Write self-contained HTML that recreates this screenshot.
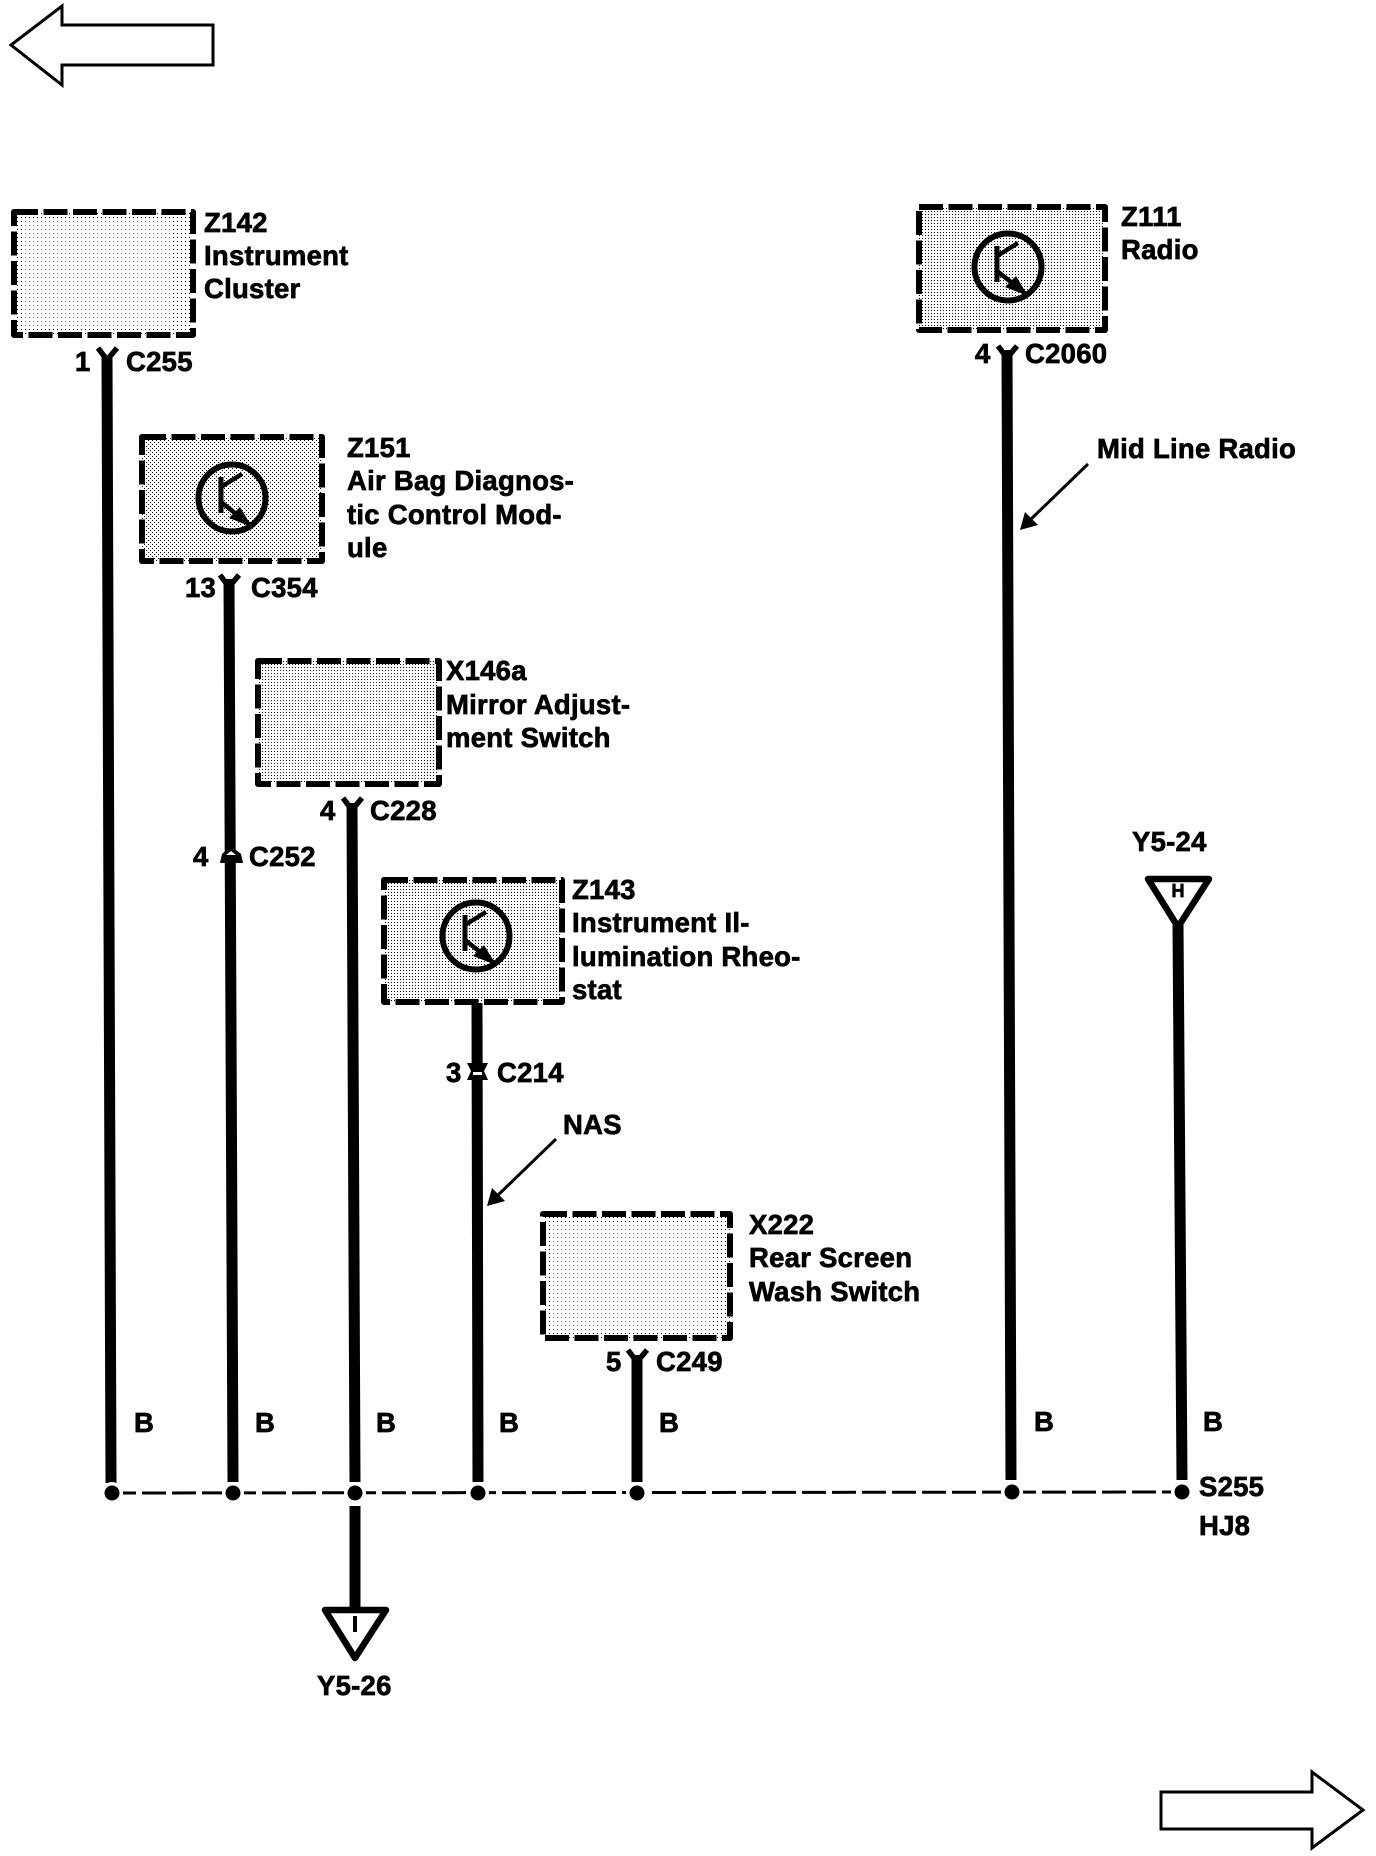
<!DOCTYPE html>
<html><head><meta charset="utf-8"><style>
html,body{margin:0;padding:0;background:#fff}
svg{display:block}
text{font-family:"Liberation Sans",sans-serif;font-weight:bold;font-size:27.5px;letter-spacing:.25px;fill:#000;stroke:#000;stroke-width:.7px}
</style></head><body>
<svg width="1376" height="1856" viewBox="0 0 1376 1856" xmlns="http://www.w3.org/2000/svg">
<defs>
<pattern id="l" width="4" height="4" patternUnits="userSpaceOnUse"><rect width="4" height="4" fill="#fff"/><rect x="1" y="1" width="1" height="1" fill="#000"/></pattern>
<pattern id="m" width="3" height="3" patternUnits="userSpaceOnUse"><rect width="3" height="3" fill="#fff"/><rect x="1" y="1" width="1" height="1" fill="#000"/></pattern>
<pattern id="d" width="4" height="4" patternUnits="userSpaceOnUse"><rect width="4" height="4" fill="#fff"/><rect x="0" y="0" width="1" height="1" fill="#000"/><rect x="2" y="2" width="1" height="1" fill="#000"/></pattern>
<g id="tr" fill="none" stroke="#000">
<circle r="33.5" stroke-width="6"/>
<path d="M-11 -21V15" stroke-width="5"/>
<path d="M-11 -11L10 -24" stroke-width="4.5"/>
<path d="M-11 4L18 27" stroke-width="4.5"/>
<path d="M-3 20L8 9L20 29Z" fill="#000" stroke="none"/>
</g>
</defs>

<!-- page arrows -->
<path d="M11 45L62 6V25H213V65H62V85Z" fill="#fff" stroke="#000" stroke-width="3"/>
<path d="M1161 1792H1312V1772L1363 1810L1312 1848V1829H1161Z" fill="#fff" stroke="#000" stroke-width="3"/>

<!-- boxes -->
<g stroke="#000" stroke-width="6" stroke-dasharray="24 5.5" stroke-linejoin="round">
<rect x="14" y="212" width="179" height="123" fill="url(#l)"/>
<rect x="142" y="437" width="180" height="124" fill="url(#d)"/>
<rect x="258" y="661" width="181" height="123" fill="url(#m)"/>
<rect x="384" y="880" width="178" height="122" fill="url(#m)"/>
<rect x="919" y="207" width="186" height="123" fill="url(#m)"/>
<rect x="543" y="1214" width="187" height="124" fill="url(#l)"/>
</g>
<rect x="22" y="220" width="150" height="108" fill="#fff" fill-opacity=".45"/>
<rect x="551" y="1222" width="160" height="108" fill="#fff" fill-opacity=".45"/>
<rect x="266" y="669" width="150" height="108" fill="#fff" fill-opacity=".15"/>
<use href="#tr" x="232" y="498"/>
<use href="#tr" x="476" y="936"/>
<use href="#tr" x="1008" y="267"/>

<!-- wires -->
<g stroke="#000" stroke-width="11" fill="none">
<path d="M107 356L111 1483"/>
<path d="M229 579L233 1482"/>
<path d="M352 803L355 1482"/>
<path d="M477 1003L478 1482"/>
<path d="M637 1355V1482"/>
<path d="M1007 350L1011 1480"/>
<path d="M1178 925L1182 1480"/>
<path d="M355 1506V1608"/>
</g>

<!-- Y connectors -->
<g stroke="#000" stroke-width="5.5" fill="none">
<path d="M98 348L107 360L117 348"/>
<path d="M220 575L229 587L239 575"/>
<path d="M343 798L352 810L362 798"/>
<path d="M628 1350L637 1362L647 1350"/>
<path d="M998 346L1007 358L1017 346"/>
</g>
<!-- inline connectors -->
<path d="M220 863L222 854L231 846L241 854L243 863Z" fill="#000"/>
<path d="M226 855L231 851L236 855Z" fill="#fff"/>
<path d="M467 1063L488 1063L484 1071L488 1080L467 1080L471 1071Z" fill="#000"/>
<rect x="473" y="1072" width="9" height="3" fill="#fff"/>

<!-- bus -->
<path d="M112 1493L1181 1492" stroke="#000" stroke-width="3" stroke-dasharray="24 6" fill="none"/>
<g fill="#fff">
<circle cx="112" cy="1493" r="11"/><circle cx="233" cy="1493" r="11"/><circle cx="355" cy="1493" r="11"/><circle cx="478" cy="1493" r="11"/><circle cx="637" cy="1493" r="11"/><circle cx="1012" cy="1492" r="11"/><circle cx="1182" cy="1492" r="11"/>
</g>
<g fill="#000">
<circle cx="112" cy="1493" r="7.5"/><circle cx="233" cy="1493" r="7.5"/><circle cx="355" cy="1493" r="7.5"/><circle cx="478" cy="1493" r="7.5"/><circle cx="637" cy="1493" r="7.5"/><circle cx="1012" cy="1492" r="7.5"/><circle cx="1182" cy="1492" r="7.5"/>
</g>

<!-- triangles -->
<path d="M325 1610H386L355 1658Z" fill="#fff" stroke="#000" stroke-width="6.5" stroke-linejoin="round"/>
<path d="M1148 879H1209L1178 927Z" fill="#fff" stroke="#000" stroke-width="6.5" stroke-linejoin="round"/>
<rect x="353" y="1616" width="4" height="16" fill="#000"/>
<text x="1178" y="897" text-anchor="middle" style="font-size:18px;letter-spacing:0">H</text>

<!-- leader arrows -->
<g stroke="#000" stroke-width="3" fill="none">
<path d="M556 1139L495 1198"/>
<path d="M1088 464L1028 522"/>
</g>
<path d="M487 1206L492 1188L505 1201Z" fill="#000"/>
<path d="M1020 530L1025 512L1038 525Z" fill="#000"/>

<!-- labels -->
<text x="204" y="232">Z142</text><text x="204" y="265">Instrument</text><text x="204" y="298">Cluster</text>
<text x="75" y="371">1</text><text x="126" y="371">C255</text>
<text x="347" y="457">Z151</text><text x="347" y="490">Air Bag Diagnos-</text><text x="347" y="524">tic Control Mod-</text><text x="347" y="557">ule</text>
<text x="185" y="597">13</text><text x="251" y="597">C354</text>
<text x="446" y="680">X146a</text><text x="446" y="714">Mirror Adjust-</text><text x="446" y="747">ment Switch</text>
<text x="320" y="820">4</text><text x="370" y="820">C228</text>
<text x="193" y="866">4</text><text x="249" y="866">C252</text>
<text x="572" y="899">Z143</text><text x="572" y="932">Instrument Il-</text><text x="572" y="966">lumination Rheo-</text><text x="572" y="999">stat</text>
<text x="446" y="1082">3</text><text x="497" y="1082">C214</text>
<text x="563" y="1134">NAS</text>
<text x="749" y="1234">X222</text><text x="749" y="1267">Rear Screen</text><text x="749" y="1301">Wash Switch</text>
<text x="606" y="1371">5</text><text x="656" y="1371">C249</text>
<text x="134" y="1432">B</text><text x="255" y="1432">B</text><text x="376" y="1432">B</text><text x="499" y="1432">B</text><text x="659" y="1432">B</text><text x="1034" y="1431">B</text><text x="1203" y="1431">B</text>
<text x="1199" y="1496">S255</text><text x="1199" y="1535">HJ8</text>
<text x="317" y="1695">Y5-26</text>
<text x="1132" y="851">Y5-24</text>
<text x="1121" y="226">Z111</text><text x="1121" y="259">Radio</text>
<text x="975" y="363">4</text><text x="1025" y="363">C2060</text>
<text x="1097" y="458">Mid Line Radio</text>
</svg>
</body></html>
